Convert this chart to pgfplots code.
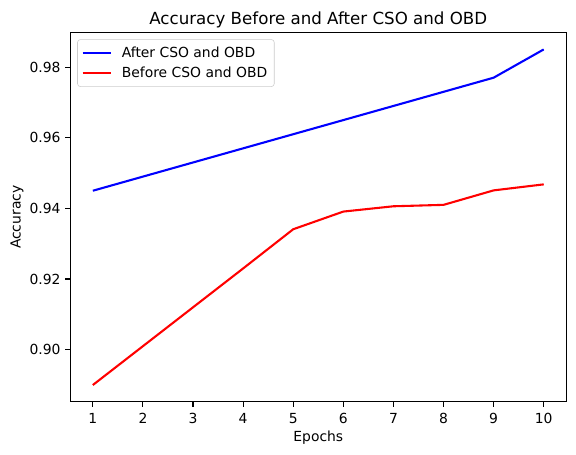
\documentclass[border=0pt]{standalone}
\usepackage{fontspec}
\setmainfont{DejaVu Sans}
\usepackage{pgfplots}
\pgfplotsset{compat=1.18}
\begin{document}
\begin{tikzpicture}
\begin{axis}[
  scale only axis,
  width=357pt, height=265.7pt,
  xmin=0.55, xmax=10.45,
  ymin=0.88525, ymax=0.98975,
  xtick={1,2,3,4,5,6,7,8,9,10},
  ytick={0.90,0.92,0.94,0.96,0.98},
  yticklabel style={/pgf/number format/.cd,fixed,fixed zerofill,precision=2},
  /pgf/number format/assume math mode=true,
  tick label style={font=\fontsize{10}{12}\selectfont},
  xtick pos=lower, ytick pos=left,
  tick align=outside,
  major tick length=3.5pt,
  every tick/.style={black, line width=0.8pt},
  axis line style={line width=0.8pt},
  xticklabel style={yshift=-1pt},
  title={Accuracy Before and After CSO and OBD},
  title style={font=\fontsize{12}{14}\selectfont, at={(0.5,1)}, anchor=base},
  xlabel={Epochs},
  ylabel={Accuracy},
  label style={font=\fontsize{10}{12}\selectfont},
  xlabel style={at={(0.5,0)}, anchor=base, yshift=-28.8pt},
  ylabel style={yshift=-2.5pt},
  legend style={font=\fontsize{10}{12}\selectfont, draw=black!20, rounded corners=2pt,
    fill=white, fill opacity=0.8, text opacity=1, at={(0,1)}, anchor=north west,
    xshift=5pt, yshift=-4.8pt, inner sep=3pt, row sep=1.6pt,
    /tikz/every odd column/.append style={column sep=5pt}},
  legend cell align=left,
  legend image code/.code={\draw[#1] (0pt,0pt) -- (20.4pt,0pt);},
]
\addplot[color=blue, line width=1.5pt] coordinates {
(1,0.945) (2,0.949) (3,0.953) (4,0.957) (5,0.961)
(6,0.965) (7,0.969) (8,0.973) (9,0.977) (10,0.985)
};
\addlegendentry{After CSO and OBD}
\addplot[color=red, line width=1.5pt] coordinates {
(1,0.890) (2,0.901) (3,0.912) (4,0.923) (5,0.9341)
(6,0.9391) (7,0.9406) (8,0.9410) (9,0.9451) (10,0.9468)
};
\addlegendentry{Before CSO and OBD}
\end{axis}
\pgfresetboundingbox
\path[use as bounding box] ([shift={(-50.6pt,-38.2pt)}]current axis.south west)
  rectangle ([shift={(7pt,23.5pt)}]current axis.north east);
\end{tikzpicture}
\end{document}
